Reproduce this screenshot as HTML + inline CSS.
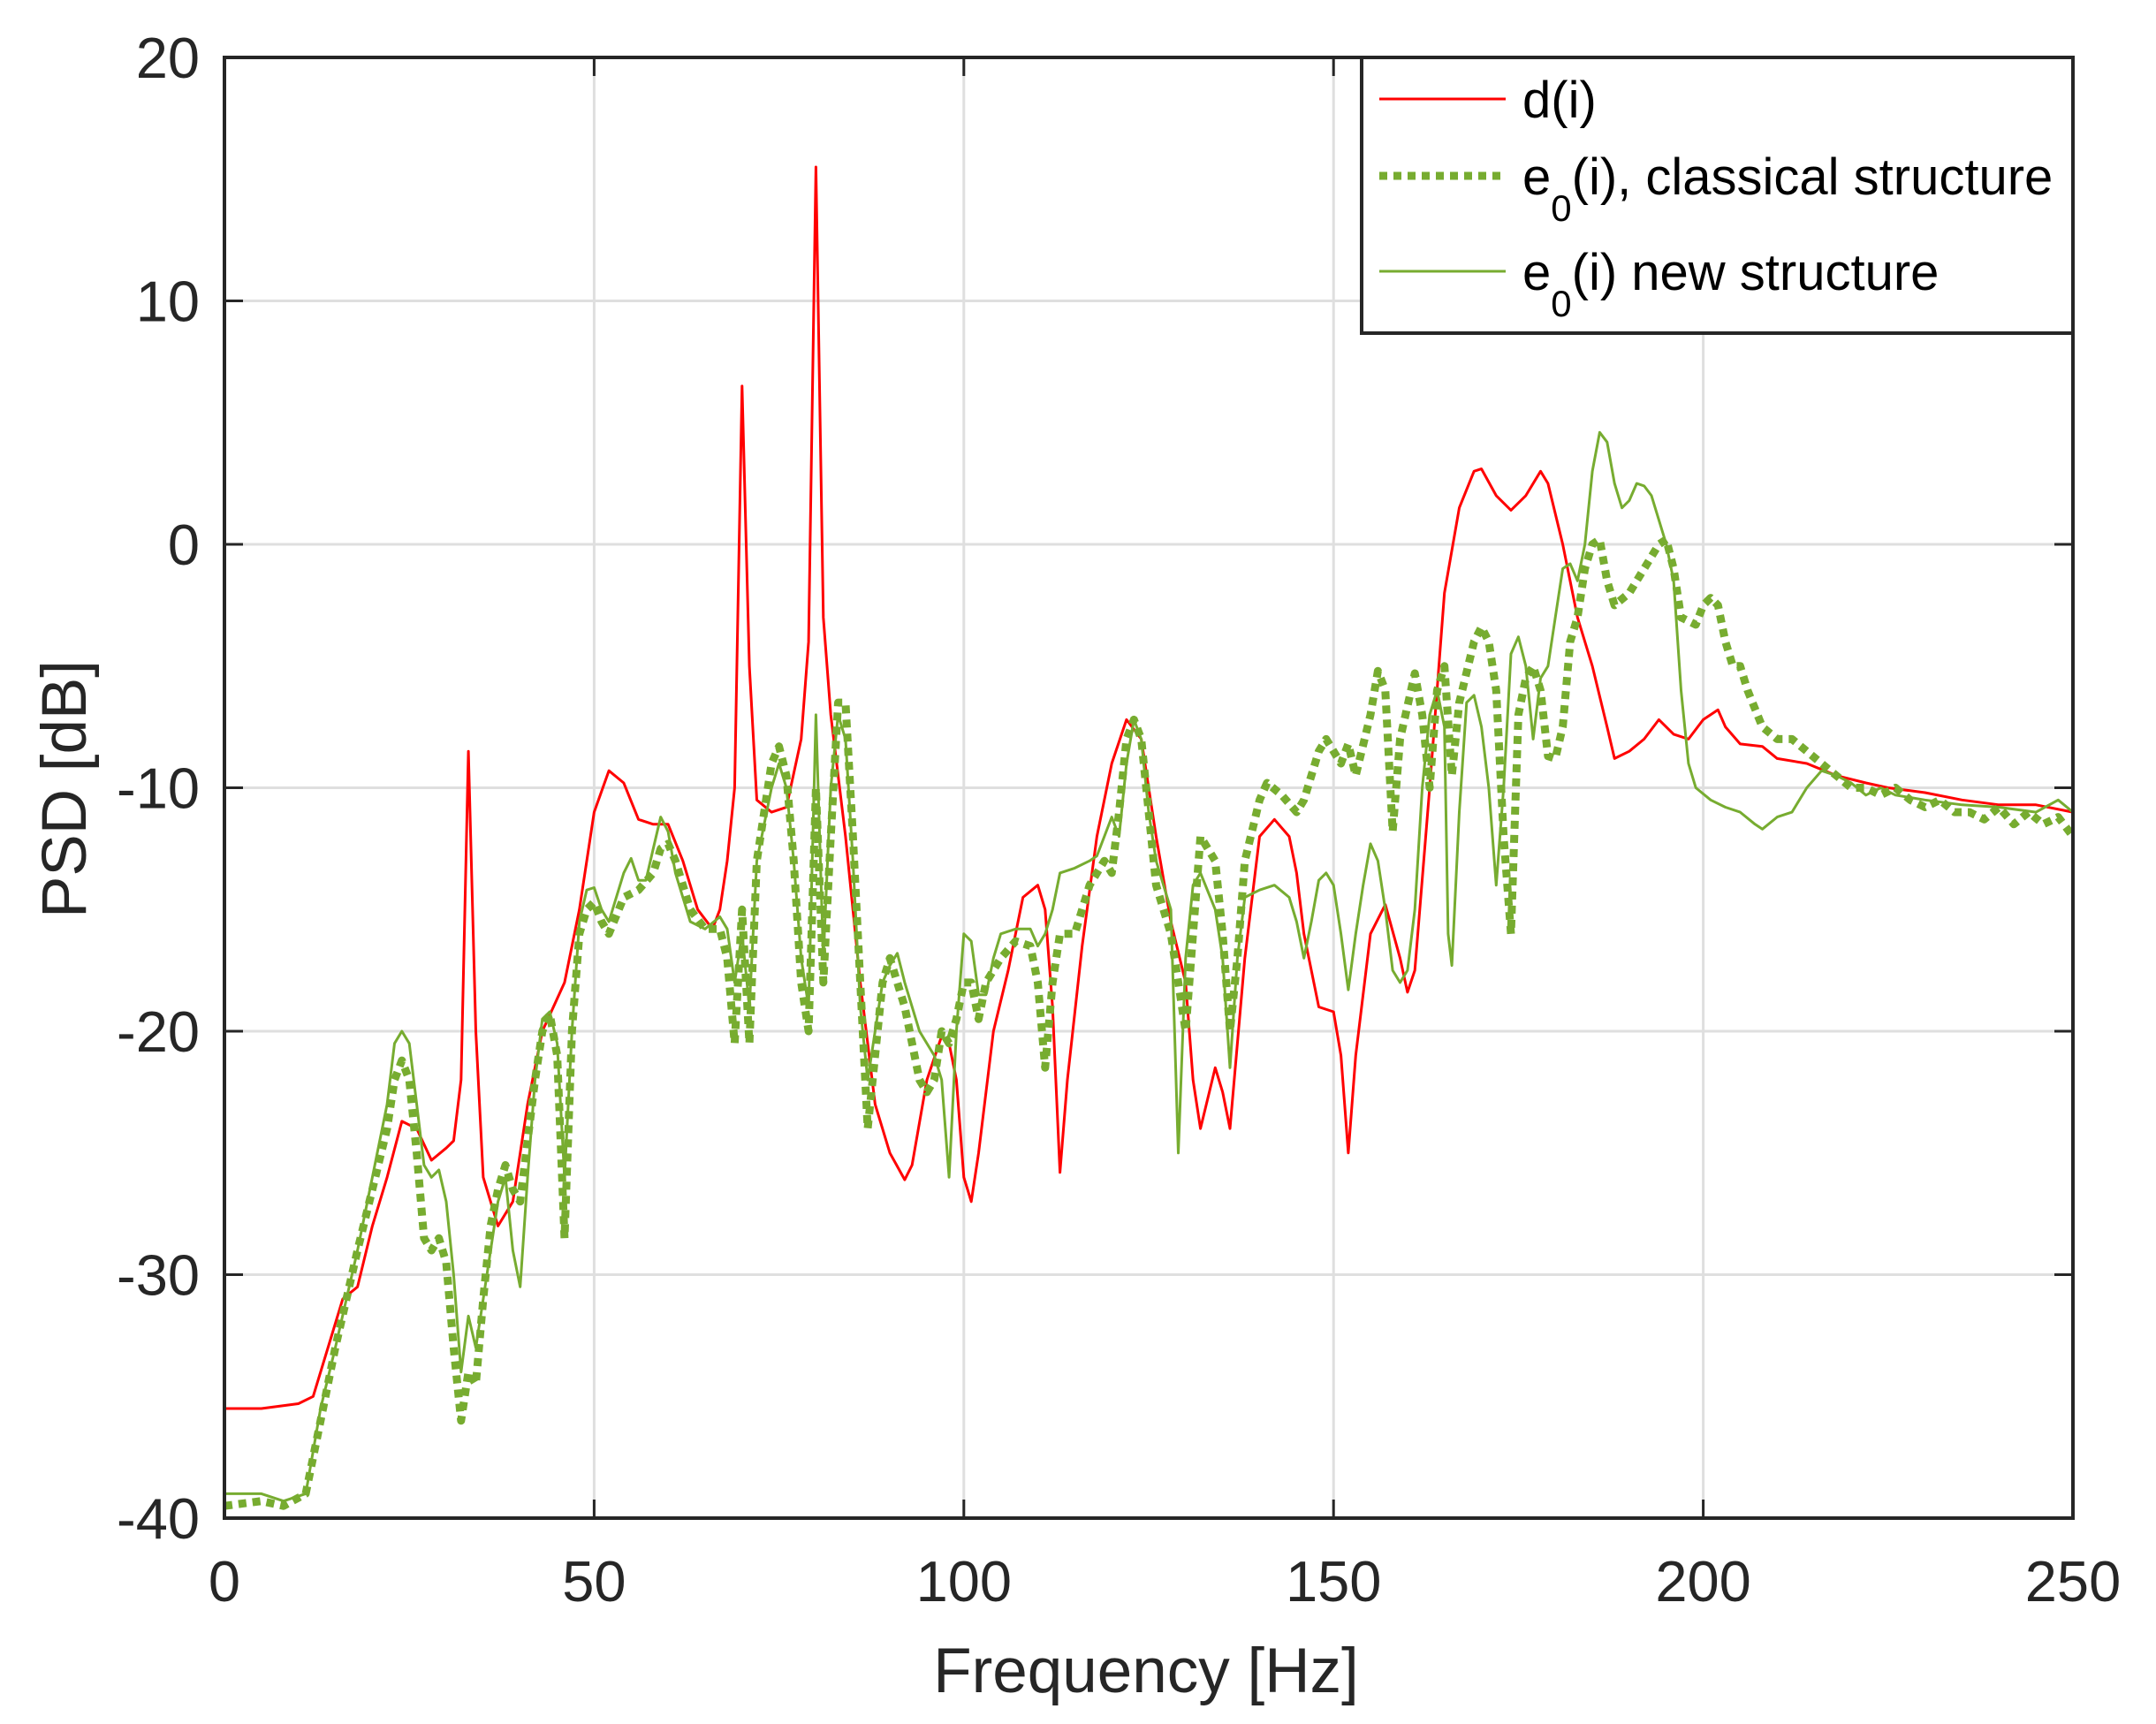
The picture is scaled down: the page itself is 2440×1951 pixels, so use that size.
<!DOCTYPE html>
<html><head><meta charset="utf-8"><style>
html,body{margin:0;padding:0;background:#fff;}
svg{display:block;font-family:"Liberation Sans",Arial,sans-serif;}
</style></head><body>
<svg id="s" width="2440" height="1951" xmlns="http://www.w3.org/2000/svg">
<rect width="2440" height="1951" fill="#fff"/>
<g id="grid" stroke="#dfdfdf" stroke-width="3"></g>
<g id="series" fill="none" stroke-linejoin="round"></g>
<g id="ticks" stroke="#262626" stroke-width="3"></g>
<rect x="254" y="65" width="2092" height="1653" fill="none" stroke="#262626" stroke-width="4"/>
<g id="labels" fill="#262626" font-size="65"></g>
<text x="1297" y="1915" font-size="71" fill="#262626" text-anchor="middle">Frequency [Hz]</text>
<text transform="translate(97,893) rotate(-90)" font-size="71" fill="#262626" text-anchor="middle">PSD [dB]</text>
<g>
<rect x="1541" y="65" width="805" height="312" fill="#fff" stroke="#262626" stroke-width="4"/>
<line x1="1561" y1="112" x2="1704" y2="112" stroke="#ff0000" stroke-width="3"/>
<line x1="1561" y1="199" x2="1704" y2="199" stroke="#77ac30" stroke-width="9" stroke-dasharray="9 7"/>
<line x1="1561" y1="307" x2="1704" y2="307" stroke="#77ac30" stroke-width="3"/>
<text x="1723" y="133" font-size="58" fill="#000">d(i)</text>
<text x="1723" y="220" font-size="58" fill="#000">e<tspan font-size="42" dy="30">0</tspan><tspan dy="-30">(i), classical structure</tspan></text>
<text x="1723" y="328" font-size="58" fill="#000">e<tspan font-size="42" dy="30">0</tspan><tspan dy="-30">(i) new structure</tspan></text>
</g>
</svg>
<script>
var L=254,R=2346,T=65,B=1718;
function X(f){return L+f/250*(R-L);}
function Y(d){return T+(20-d)/60*(B-T);}
var NS="http://www.w3.org/2000/svg";
function el(p,n,a,t){var e=document.createElementNS(NS,n);for(var k in a)e.setAttribute(k,a[k]);if(t!=null)e.textContent=t;document.getElementById(p).appendChild(e);return e;}
for(var f=50;f<250;f+=50)el("grid","line",{x1:X(f),x2:X(f),y1:T,y2:B});
for(var d=-30;d<20;d+=10)el("grid","line",{x1:L,x2:R,y1:Y(d),y2:Y(d)});
for(var f=0;f<=250;f+=50){el("ticks","line",{x1:X(f),x2:X(f),y1:B,y2:B-21});el("ticks","line",{x1:X(f),x2:X(f),y1:T,y2:T+21});
 el("labels","text",{x:X(f),y:1812,"text-anchor":"middle"},String(f));}
for(var d=-40;d<=20;d+=10){el("ticks","line",{x1:L,x2:L+21,y1:Y(d),y2:Y(d)});el("ticks","line",{x1:R,x2:R-21,y1:Y(d),y2:Y(d)});
 el("labels","text",{x:226,y:Y(d)+23,"text-anchor":"end"},String(d));}
var red=[[0,-35.5],[5,-35.5],[10,-35.3],[12,-35],[14,-33],[16,-31],[18,-30.5],[20,-28],[22,-26],[24,-23.7],[26,-24],[28,-25.3],[30,-24.8],[31,-24.5],[32,-22],[33,-8.5],[34,-20],[35,-26],[37,-28],[39,-27],[41,-23],[43,-20],[46,-18],[48,-15],[50,-11],[52,-9.3],[54,-9.8],[56,-11.3],[58,-11.5],[60,-11.5],[62,-13],[64,-15],[66,-15.8],[67,-15],[68,-13],[69,-10],[70,6.5],[71,-5],[72,-10.5],[74,-11],[76,-10.8],[78,-8],[79,-4],[80,15.5],[81,-3],[82,-7],[84,-12],[86,-18],[88,-23],[90,-25],[92,-26.1],[93,-25.5],[95,-22],[97,-20.2],[98,-20.5],[99,-22],[100,-26],[101,-27],[102,-25],[104,-20],[106,-17.5],[108,-14.5],[110,-14],[111,-15],[112,-19],[113,-25.8],[114,-22],[116,-16.5],[118,-12],[120,-9],[122,-7.2],[124,-8],[126,-12],[128,-15.5],[130,-18],[131,-22],[132,-24],[134,-21.5],[135,-22.5],[136,-24],[138,-17],[140,-12],[142,-11.3],[144,-12],[145,-13.5],[146,-16],[148,-19],[150,-19.2],[151,-21],[152,-25],[153,-21],[155,-16],[157,-14.8],[159,-17],[160,-18.4],[161,-17.5],[163,-10],[165,-2],[167,1.5],[169,3],[170,3.1],[172,2],[174,1.4],[176,2],[178,3],[179,2.5],[181,0],[183,-3],[185,-5],[187,-7.5],[188,-8.8],[190,-8.5],[192,-8],[194,-7.2],[196,-7.8],[198,-8],[200,-7.2],[202,-6.8],[203,-7.5],[205,-8.2],[208,-8.3],[210,-8.8],[214,-9],[218,-9.5],[222,-9.8],[225,-10],[230,-10.2],[235,-10.5],[240,-10.7],[245,-10.7],[250,-11]];
var cls=[[0,-39.5],[5,-39.3],[8,-39.5],[11,-39],[13,-36],[15,-33],[18,-29],[20,-26.5],[22,-24],[23,-22],[24,-21.2],[25,-22],[26,-25],[27,-28.5],[28,-29],[29,-28.5],[30,-29.5],[31,-33],[32,-36],[33,-34],[34,-34.5],[35,-31],[36,-28],[37,-26.5],[38,-25.5],[39,-26.5],[40,-27],[42,-22],[43,-20],[44,-19.3],[45,-21],[46,-28.5],[47,-20],[48,-16],[49,-15],[50,-14.7],[51,-15.5],[52,-16],[54,-14.5],[56,-14.2],[58,-13.5],[59,-12.5],[60,-12.3],[61,-13],[63,-15],[65,-15.8],[67,-15.8],[68,-17],[69,-20.5],[70,-15],[71,-20.5],[72,-13],[74,-9],[75,-8.3],[76,-9.5],[77,-13],[78,-18],[79,-20],[80,-10],[81,-18],[82,-12],[83,-6.5],[84,-6.5],[85,-12],[86,-18],[87,-24],[88,-21],[89,-18],[90,-17],[92,-19],[94,-22],[95,-22.5],[96,-22],[97,-20],[98,-20.5],[99,-19.5],[100,-18],[101,-18],[102,-19.5],[103,-18],[105,-17],[107,-16.3],[109,-16.5],[110,-18],[111,-21.5],[112,-18],[113,-16],[115,-16],[117,-14],[119,-13],[120,-13.5],[121,-11],[122,-8],[123,-7.2],[124,-8],[125,-11],[126,-14],[128,-16],[129,-18],[130,-20],[131,-16],[132,-12],[134,-13],[135,-16],[136,-20],[137,-17],[138,-13],[140,-10.5],[141,-9.8],[143,-10.3],[145,-11],[146,-10.5],[148,-8.5],[149,-8],[151,-9],[152,-8.2],[153,-9.5],[155,-7],[156,-5.2],[157,-6],[158,-11.8],[159,-8],[161,-5.3],[162,-7],[163,-10],[164,-6],[165,-5],[166,-9.5],[167,-6.5],[169,-4],[170,-3.4],[171,-4],[172,-6],[173,-12],[174,-16],[175,-7],[176,-5.5],[177,-5],[178,-6],[179,-8.7],[180,-8.8],[181,-7.5],[182,-4],[183,-3],[184,-1],[185,0],[186,0.2],[187,-1.5],[188,-2.5],[190,-2],[192,-1],[194,0],[195,0.2],[196,-1],[197,-3],[199,-3.3],[200,-2.5],[201,-2.2],[202,-2.5],[203,-4],[204,-5],[205,-5],[206,-6],[208,-7.5],[210,-8],[212,-8],[214,-8.5],[216,-9],[218,-9.5],[220,-10],[222,-10],[224,-10.3],[226,-10],[228,-10.5],[230,-10.8],[232,-10.5],[234,-11],[236,-11],[238,-11.3],[240,-10.8],[242,-11.5],[244,-11],[246,-11.5],[248,-11.2],[250,-12]];
var nw=[[0,-39],[5,-39],[8,-39.3],[11,-39],[13,-35.5],[15,-33],[18,-29],[20,-26],[22,-23],[23,-20.5],[24,-20],[25,-20.5],[26,-23],[27,-25.5],[28,-26],[29,-25.7],[30,-27],[31,-30],[32,-34],[33,-31.7],[34,-33],[35,-31],[37,-27],[38,-26],[39,-29],[40,-30.5],[41,-26],[42,-22],[43,-19.5],[44,-19.2],[45,-20.5],[46,-26],[47,-20],[48,-15.5],[49,-14.2],[50,-14.1],[51,-15],[52,-15.5],[54,-13.5],[55,-12.9],[56,-13.8],[57,-13.8],[58,-12.5],[59,-11.2],[60,-11.8],[61,-13.5],[63,-15.5],[65,-15.8],[67,-15.3],[68,-15.8],[69,-18],[70,-16],[71,-19],[72,-13],[74,-10],[75,-9],[76,-10],[77,-13],[78,-17],[79,-19],[80,-7],[81,-17],[82,-10],[83,-7],[84,-8],[85,-13],[86,-19],[87,-22],[88,-20],[89,-18],[90,-17.3],[91,-16.8],[92,-18],[94,-20],[96,-21],[97,-22],[98,-26],[99,-20],[100,-16],[101,-16.3],[102,-18.5],[103,-18.5],[104,-17],[105,-16],[107,-15.8],[109,-15.8],[110,-16.5],[111,-16],[112,-15],[113,-13.5],[115,-13.3],[117,-13],[118,-12.8],[119,-12],[120,-11.2],[121,-12],[122,-9],[123,-7.2],[124,-8],[125,-11],[126,-13],[128,-15],[129,-25],[130,-17],[131,-14],[132,-13.5],[134,-15],[135,-17],[136,-21.5],[137,-17],[138,-14.5],[140,-14.2],[142,-14],[144,-14.5],[145,-15.5],[146,-17],[147,-15.5],[148,-13.8],[149,-13.5],[150,-14],[151,-16],[152,-18.3],[153,-16],[154,-14],[155,-12.3],[156,-13],[157,-15],[158,-17.5],[159,-18],[160,-17.5],[161,-15],[162,-10],[163,-7],[164,-6],[165,-7.5],[165.5,-16],[166,-17.3],[167,-11],[168,-6.5],[169,-6.2],[170,-7.5],[171,-10],[172,-14],[173,-10],[174,-4.5],[175,-3.8],[176,-5],[177,-8],[178,-5.5],[179,-5],[180,-3],[181,-1],[182,-0.8],[183,-1.5],[184,0],[185,3],[186,4.6],[187,4.2],[188,2.5],[189,1.5],[190,1.8],[191,2.5],[192,2.4],[193,2],[194,1],[195,0],[196,-1.5],[197,-6],[198,-9],[199,-10],[201,-10.5],[203,-10.8],[205,-11],[207,-11.5],[208,-11.7],[210,-11.2],[212,-11],[214,-10],[216,-9.3],[218,-9.5],[220,-9.8],[222,-10.3],[224,-10],[226,-10.3],[230,-10.5],[235,-10.7],[240,-10.8],[245,-11],[248,-10.5],[250,-11]];
function path(p){return p.map(function(q,i){return (i?"L":"M")+X(q[0]).toFixed(1)+" "+Y(q[1]).toFixed(1);}).join("");}
el("series","path",{d:path(red),stroke:"#ff0000","stroke-width":3});
el("series","path",{d:path(cls),stroke:"#77ac30","stroke-width":9,"stroke-dasharray":"9 7"});
el("series","path",{d:path(nw),stroke:"#77ac30","stroke-width":3});
</script>
</body></html>
